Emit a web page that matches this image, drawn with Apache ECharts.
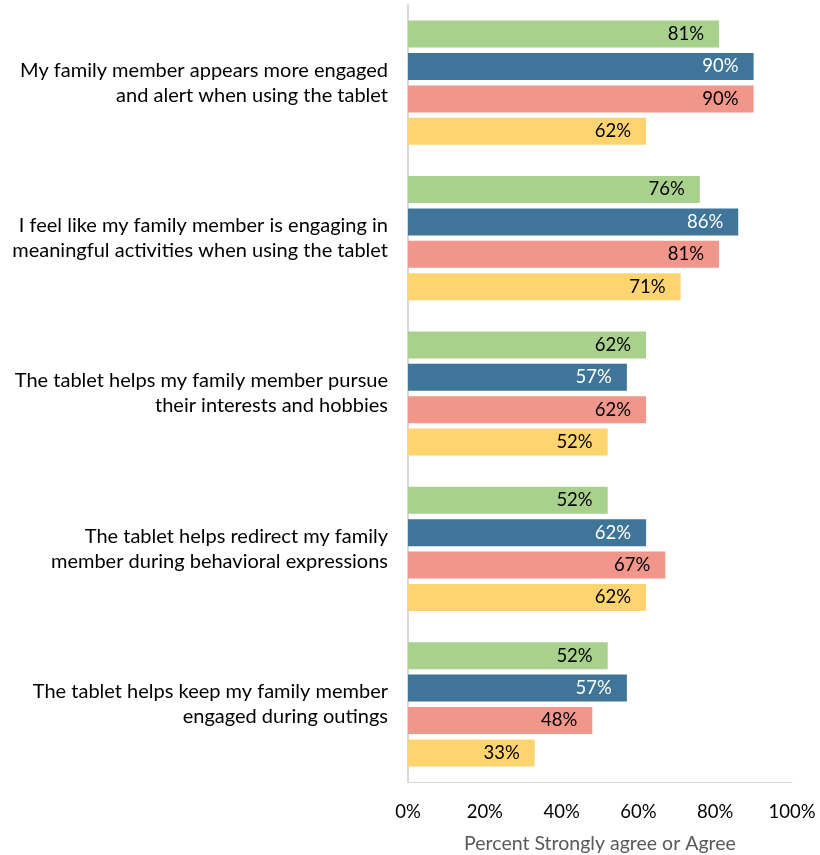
<!DOCTYPE html>
<html>
<head>
<meta charset="utf-8">
<script src="https://cdn.jsdelivr.net/npm/echarts@6/dist/echarts.min.js"></script>
<style>
  html, body { margin: 0; padding: 0; background: #fff; }
  #chart { width: 820px; height: 855px; }
</style>
</head>
<body>
<div id="chart"></div>
<script>
// Survey statements, listed top to bottom
const statements = [
  'My family member appears more engaged\nand alert when using the tablet',
  'I feel like my family member is engaging in\nmeaningful activities when using the tablet',
  'The tablet helps my family member pursue\ntheir interests and hobbies',
  'The tablet helps redirect my family\nmember during behavioral expressions',
  'The tablet helps keep my family member\nengaged during outings'
];

// Percent strongly agree or agree, one array per group
const greenValues  = [81, 76, 62, 52, 52];
const blueValues   = [90, 86, 57, 62, 57];
const salmonValues = [90, 81, 62, 67, 48];
const yellowValues = [62, 71, 52, 62, 33];

const xTicks = [0, 20, 40, 60, 80, 100];

const FONT = 'Lato, "Open Sans", sans-serif';

function barSeries(name, data, color, labelColor) {
  return {
    name: name,
    type: 'bar',
    data: data,
    barWidth: 27,
    barGap: '20%',
    itemStyle: { color: color },
    label: {
      show: true,
      position: 'insideRight',
      distance: 15,
      formatter: '{c}%',
      color: labelColor,
      fontFamily: FONT,
      fontSize: 18.5
    }
  };
}

const chart = echarts.init(document.getElementById('chart'));
chart.setOption({
  animation: false,
  grid: { left: 408, right: 28, top: 5, bottom: 73, containLabel: false, outerBoundsMode: 'none' },
  xAxis: {
    type: 'value',
    min: xTicks[0],
    max: xTicks[xTicks.length - 1],
    interval: 20,
    splitLine: { show: false },
    axisTick: { show: false },
    axisLine: { show: true, lineStyle: { color: '#d9d9d9', width: 1 } },
    axisLabel: {
      formatter: '{value}%',
      color: '#000',
      fontFamily: FONT,
      fontSize: 18.5,
      margin: 21
    },
    name: 'Percent Strongly agree or Agree',
    nameLocation: 'middle',
    nameGap: 52,
    nameTextStyle: { color: '#595959', fontFamily: FONT, fontSize: 19.5 }
  },
  yAxis: {
    type: 'category',
    inverse: true,
    data: statements,
    axisTick: { show: false },
    axisLine: { show: true, lineStyle: { color: '#d9d9d9', width: 2 } },
    axisLabel: {
      color: '#000',
      fontFamily: FONT,
      fontSize: 20,
      lineHeight: 25,
      margin: 20,
      align: 'right'
    }
  },
  series: [
    barSeries('Group 1', greenValues,  '#A9D18E', '#000'),
    barSeries('Group 2', blueValues,   '#3F7598', '#fff'),
    barSeries('Group 3', salmonValues, '#F1968B', '#000'),
    barSeries('Group 4', yellowValues, '#FED470', '#000')
  ]
});
</script>
</body>
</html>
